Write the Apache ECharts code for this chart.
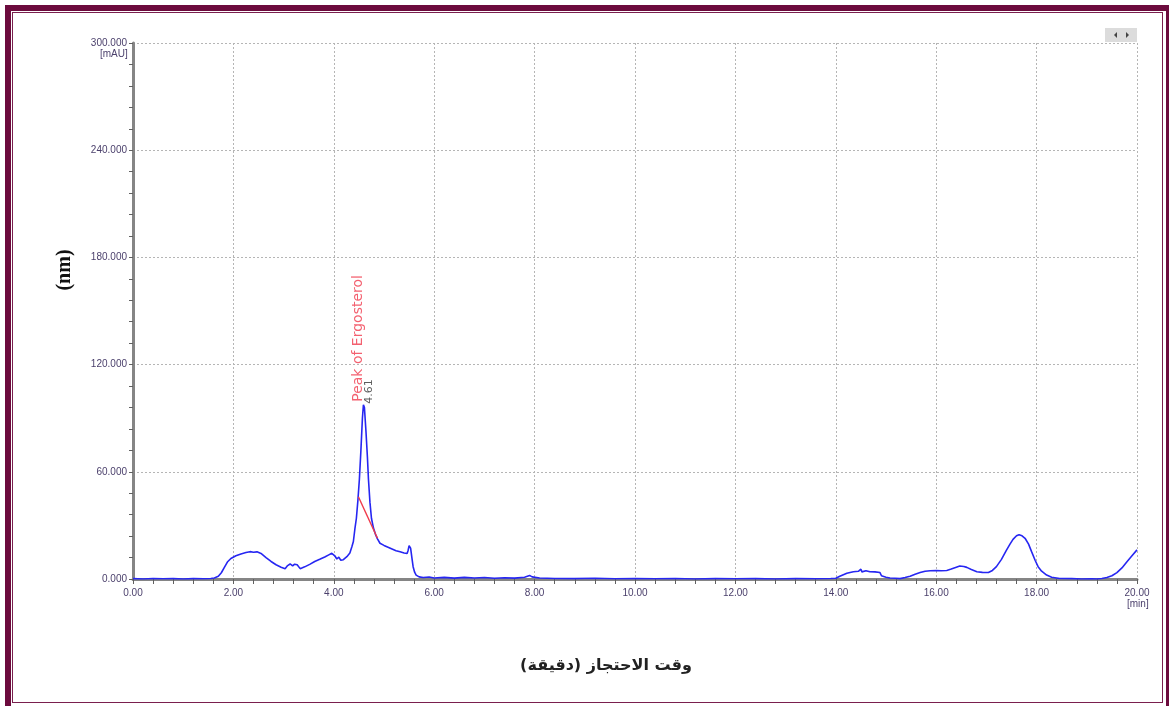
<!DOCTYPE html>
<html><head><meta charset="utf-8">
<script src="https://cdn.jsdelivr.net/npm/echarts@6/dist/echarts.min.js"></script>
<style>
html,body{margin:0;padding:0;background:#fff;overflow:hidden;}
#c{width:1169px;height:706px;}
.f1{position:absolute;left:5px;top:5px;width:1155px;height:695px;border:6px solid #6c0b3d;pointer-events:none;}
.f2{position:absolute;left:12px;top:12px;width:1149px;height:689px;border:1.5px solid #7a1f4e;pointer-events:none;}
</style></head>
<body>
<div id="c"></div>
<div class="f1"></div><div class="f2"></div>
<script>
// retention time (min)
const times = [0.00,0.20,0.40,0.60,0.80,1.00,1.20,1.40,1.55,1.62,1.70,1.76,1.82,1.88,1.95,2.05,2.15,2.25,2.33,2.40,2.47,2.55,2.65,2.75,2.85,2.95,3.03,3.08,3.13,3.18,3.22,3.27,3.33,3.42,3.52,3.62,3.72,3.82,3.90,3.96,4.02,4.06,4.10,4.14,4.19,4.26,4.32,4.36,4.39,4.42,4.45,4.48,4.51,4.54,4.57,4.59,4.61,4.64,4.67,4.69,4.72,4.75,4.79,4.83,4.87,4.92,5.00,5.08,5.16,5.24,5.32,5.40,5.46,5.48,5.50,5.53,5.56,5.58,5.61,5.64,5.70,5.78,5.90,6.00,6.20,6.40,6.60,6.80,7.00,7.20,7.40,7.60,7.80,7.90,7.95,8.10,8.40,8.80,9.20,9.60,10.00,10.40,10.80,11.20,11.60,12.00,12.40,12.80,13.20,13.60,13.90,14.00,14.08,14.22,14.35,14.45,14.50,14.52,14.60,14.68,14.78,14.88,14.91,15.00,15.08,15.18,15.28,15.38,15.48,15.58,15.68,15.78,15.88,16.00,16.10,16.21,16.30,16.40,16.47,16.55,16.61,16.70,16.81,16.92,17.04,17.12,17.20,17.30,17.40,17.47,17.53,17.60,17.65,17.71,17.77,17.84,17.90,17.97,18.03,18.10,18.20,18.30,18.46,18.70,18.90,19.10,19.20,19.30,19.40,19.50,19.60,19.70,19.80,19.90,20.00];
// absorbance (mAU)
const signal = [0.2,0.0,0.3,0.1,0.2,0.0,0.2,0.1,0.3,0.6,1.5,3.5,6.5,9.5,11.5,13.0,14.0,14.8,15.3,15.0,15.2,14.3,12.0,9.8,8.0,6.6,5.8,7.5,8.4,7.3,8.3,8.0,5.8,6.8,8.2,9.8,11.0,12.3,13.5,14.4,13.0,11.2,12.2,10.5,10.8,12.5,14.5,18,21,28,34,44,56,72,90,97.5,96,83,68,56,43,34,28.5,25,22.5,20,18.8,17.8,16.8,15.8,15.3,14.6,14.3,16,18.6,17.3,11,6.9,3.8,2.2,1.2,0.8,1.1,0.6,0.9,0.5,0.9,0.6,0.8,0.4,0.7,0.5,1.0,2.0,1.2,0.6,0.3,0.2,0.4,0.1,0.3,0.1,0.3,0.0,0.2,0.1,0.2,0.0,0.2,0.1,0.3,0.4,1.5,3.2,4.1,4.3,5.5,4.0,4.6,4.1,4.0,3.6,1.8,1.0,0.6,0.4,0.2,0.8,1.5,2.6,3.6,4.3,4.6,4.8,4.6,4.8,5.6,6.6,7.3,7.0,6.5,5.3,4.1,3.7,3.6,4.8,6.9,11,16.2,19.5,22.2,24.2,24.8,24.2,22.8,19.5,15.3,10.5,6.9,4.4,2.2,1.0,0.3,0.2,0.0,0.1,0.0,0.3,0.8,1.8,3.6,6.2,9.7,13,16.3];
// integration baseline of the ergosterol peak
const baseTimes = [4.49, 4.87];
const baseValues = [46, 22.8];
// peak annotation
const peakTime = 4.61;
const peakHeight = 97.5;
const peakName = 'Peak of Ergosterol';
const peakLabel = '4.61';
// axes
const yTicks = [0,60,120,180,240,300];
const xTicks = [0,2,4,6,8,10,12,14,16,18,20];
const yUnit = '[mAU]';
const xUnit = '[min]';
const yTitle = '(nm)';
const xTitle = 'وقت الاحتجاز (دقيقة)';

const lineData = times.map((t,i)=>[t, signal[i]]);
const baseData = baseTimes.map((t,i)=>[t, baseValues[i]]);
const tickFont = {fontFamily:'"Liberation Sans Narrow","Liberation Sans",Arial,sans-serif', fontSize:10, color:'#4a3f6b'};

const chart = echarts.init(document.getElementById('c'), null, {renderer:'canvas'});
chart.setOption({
  animation:false,
  backgroundColor:'#fff',
  grid:{left:133,right:32,top:43,bottom:127,containLabel:false},
  xAxis:{
    type:'value', min:xTicks[0], max:xTicks[xTicks.length-1], interval:xTicks[1]-xTicks[0],
    axisLine:{show:true,onZero:false,lineStyle:{color:'#858585',width:3}},
    axisTick:{show:true,length:5,lineStyle:{color:'#606060',width:1}},
    minorTick:{show:true,splitNumber:5,length:5,lineStyle:{color:'#606060',width:1}},
    splitLine:{show:true,lineStyle:{color:'#b5b5b5',type:[2,2],width:1}},
    axisLabel:Object.assign({margin:9,formatter:v=>v.toFixed(2)},tickFont)
  },
  yAxis:{
    type:'value', min:yTicks[0], max:yTicks[yTicks.length-1], interval:yTicks[1]-yTicks[0],
    axisLine:{show:true,onZero:false,lineStyle:{color:'#858585',width:3}},
    axisTick:{show:true,length:4,lineStyle:{color:'#606060',width:1}},
    minorTick:{show:true,splitNumber:5,length:4,lineStyle:{color:'#606060',width:1}},
    splitLine:{show:true,lineStyle:{color:'#b5b5b5',type:[2,2],width:1}},
    axisLabel:Object.assign({margin:6,formatter:v=>v.toFixed(3)},tickFont)
  },
  series:[
    {type:'line',data:lineData,symbol:'none',lineStyle:{color:'#2626f2',width:1.6},z:3},
    {type:'line',data:baseData,symbol:'none',lineStyle:{color:'#f03a4a',width:1.4},z:4},
    {type:'scatter',data:[[peakTime,peakHeight]],symbolSize:0,z:5,silent:true,
      label:{show:true,position:'top',distance:1,rotate:90,align:'left',verticalAlign:'middle',offset:[0,5],
        formatter:peakLabel,fontFamily:'"DejaVu Sans",Arial,sans-serif',fontSize:11,color:'#333'}},
    {type:'scatter',data:[[peakTime,peakHeight]],symbolSize:0,z:5,silent:true,
      label:{show:true,position:'top',distance:3,rotate:90,align:'left',verticalAlign:'middle',offset:[0,-6],
        formatter:peakName,fontFamily:'"DejaVu Sans",Arial,sans-serif',fontSize:14,color:'#f0394c'}}
  ],
  graphic:[
    {type:'text',left:100,top:49,style:{text:yUnit,font:'10px "Liberation Sans Narrow","Liberation Sans",Arial',fill:'#4a3f6b'}},
    {type:'text',left:1127,top:599,style:{text:xUnit,font:'10px "Liberation Sans Narrow","Liberation Sans",Arial',fill:'#4a3f6b'}},
    {type:'text',x:65,y:270,rotation:Math.PI/2,style:{text:yTitle,font:'bold 20px "Liberation Serif","DejaVu Serif",serif',fill:'#111',align:'center',verticalAlign:'middle'}},
    {type:'text',x:606,y:666,style:{text:xTitle,font:'bold 16px "DejaVu Sans",sans-serif',fill:'#222',align:'center',verticalAlign:'middle',direction:'rtl'}},
    {type:'group',left:1105,top:28,children:[
      {type:'rect',shape:{x:0,y:0,width:32,height:14},style:{fill:'#dcdcdc'}},
      {type:'polygon',shape:{points:[[9,7],[12,4],[12,10]]},style:{fill:'#444'}},
      {type:'polygon',shape:{points:[[24,7],[21,4],[21,10]]},style:{fill:'#444'}}
    ]}
  ]
});
</script>
</body></html>
